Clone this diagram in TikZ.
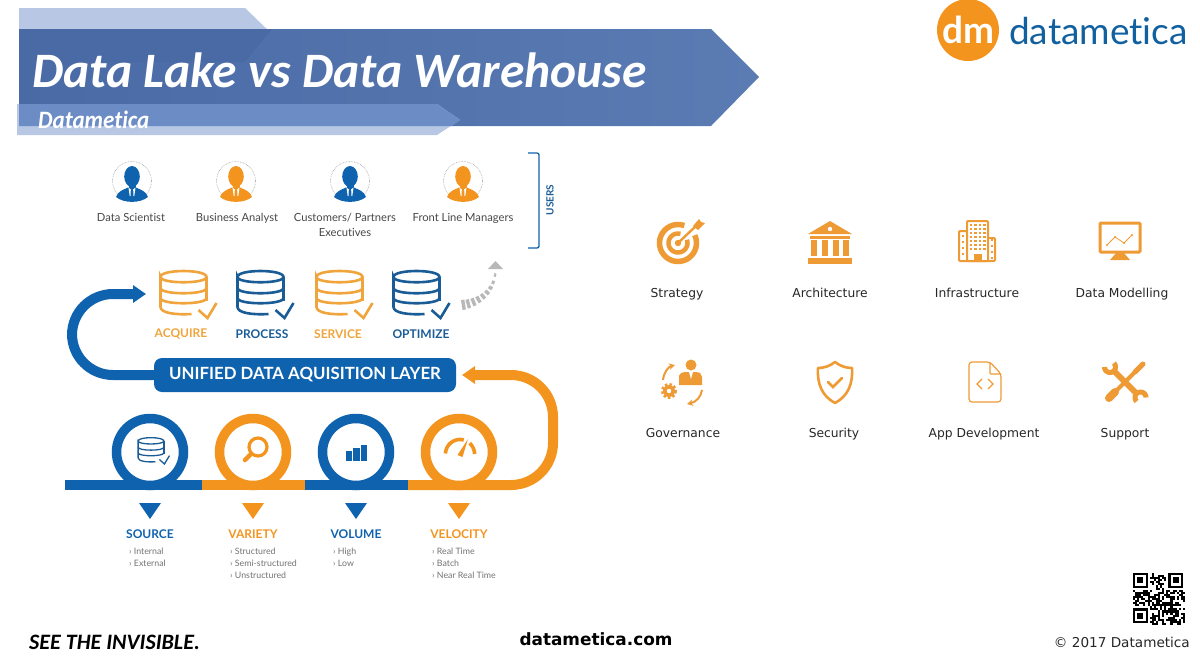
\documentclass[tikz,border=0pt]{standalone}
\usepackage{fontspec}
\usepackage{tikz}
\usetikzlibrary{arrows.meta,positioning,calc}
\setmainfont[Ligatures=NoCommon]{Lato}
\newfontfamily\titlefont[Ligatures=NoCommon]{Carlito}
\newfontfamily\webfont{DejaVu Sans}
\definecolor{dmblue}{HTML}{0F63AE}
\definecolor{dmnavy}{HTML}{1A5C96}
\definecolor{dmorange}{HTML}{F3941E}
\definecolor{dmpale}{HTML}{F0A43C}
\definecolor{iconorange}{HTML}{EE9A35}
\definecolor{bandmid}{HTML}{5B7BB3}
\definecolor{banddark}{HTML}{4A6AA6}
\definecolor{bandlight}{HTML}{B7C7E4}
\definecolor{bandstrip}{HTML}{6C8CC5}
\definecolor{logoblue}{HTML}{11609F}
\newcommand{\oparc}[6][]{\draw[#1, domain=#5:#6, samples=30, smooth, variable=\t] plot ({#2+#4*cos(\t)},{#3+#4*sin(\t)})}
\tikzset{
    usertxt/.style={font=\fontsize{11.2}{15}\selectfont, text=black!72, align=center},
    steptxt/.style={font=\fontsize{12}{14}\selectfont\bfseries},
    itemtxt/.style={font=\fontsize{8.8}{11.7}\selectfont, text=black!55, align=left, anchor=north west},
    icontxt/.style={font=\fontsize{12.3}{14}\selectfont\webfont, text=black!85, anchor=base},
    ringnode/.style={circle, draw=#1, line width=9.5, fill=white, minimum size=67, inner sep=0},
    pics/dbstack/.style={code={
        \draw (-23,-16) .. controls (-23,-24) and (23,-24) .. (23,-16) .. controls (23,-9) and (-23,-9) .. (-23,-16) -- (-23,14)
            .. controls (-23,20) and (-8,22) .. (8,21);
        \draw (23,-16) -- (23,8);
        \draw (-23,-5) .. controls (-23,2) and (23,2) .. (23,-5);
        \draw (-23,5) .. controls (-23,12) and (23,12) .. (23,5);
        \draw (15,17) -- (24,25) -- (33,10);
    }},
    pics/person/.style={code={
        \draw[black!40, densely dotted, line width=.6] (0,0) circle[radius=19.5];
        \fill (0,-4.5) ellipse[x radius=7.8,y radius=10.5];
        \fill (-3.5,3) rectangle (3.5,8);
        \fill (-16,16) .. controls (-14,10) and (-9,9) .. (-4,6.5) -- (4,6.5) .. controls (9,9) and (14,10) .. (16,16)
            .. controls (8,22.5) and (-8,22.5) .. (-16,16) -- cycle;
        \fill[white] (-3.5,6.5) -- (-1.2,8.5) -- (-1.5,15) -- (-2.3,15) -- cycle;
        \fill[white] (3.5,6.5) -- (1.2,8.5) -- (1.5,15) -- (2.3,15) -- cycle;
    }},
    pics/lens/.style={code={
        \draw[line width=3.2] (3,-3) circle[radius=9];
        \draw[line width=4.5, line cap=round] (-4,4) -- (-10,10);
    }},
    pics/bars/.style={code={
        \fill (-10.5,-1) rectangle (-4,9);
        \fill (-3,-4) rectangle (3.5,9);
        \fill (4.5,-7) rectangle (11,9);
    }},
    pics/gauge/.style={code={
        \oparc[line width=3.6]{0}{3}{14.5}{-178}{-75};
        \oparc[line width=3.6]{0}{3}{14.5}{-48}{0};
        \fill (8,-12) -- (2.5,6) -- (-2.5,4) -- cycle;
    }},
    pics/target/.style={code={
        \oparc[line width=5.5]{-2}{2}{18.5}{-25}{290};
        \oparc[line width=4.5]{-2}{2}{9.5}{-20}{285};
        \fill (-2,2) circle[radius=3.2];
        \draw[line width=2.4] (-2,2) -- (17,-16);
        \fill (13,-15) -- (19,-22) -- (21,-19) -- (25,-18) -- (18,-11) -- cycle;
    }},
    pics/temple/.style={code={
        \fill (-22,-8) -- (0,-21) -- (22,-8) -- cycle;
        \fill[white] (0,-13) circle[radius=2.2];
        \fill (-20,-6) rectangle (20,-3);
        \foreach \cx in {-16,-5.5,5.5,16}
            \fill (\cx-3,-2) rectangle (\cx+3,14);
        \fill (-22,16) rectangle (22,22);
    }},
    pics/towers/.style={code={
        \draw[line width=2, rounded corners=1] (-10,20) rectangle (11,-20);
        \draw[line width=2, rounded corners=1] (-10,-10) -- (-18,-10) -- (-18,20) -- (18,20) -- (18,-3) -- (11,-3);
        \foreach \cx in {-6,-1.5,3,7.5}
            \foreach \cy in {-16,-12,-8,-4,0,4,8}
                \fill (\cx-1.1,\cy-1.1) rectangle (\cx+1.1,\cy+1.1);
        \foreach \cy in {-5,1,7,13}
            {\fill (-15,\cy-1) rectangle (-13,\cy+1);
             \fill (13.5,\cy+3) rectangle (15.5,\cy+5);}
        \fill (-3,13) rectangle (5,20);
    }},
    pics/monitor/.style={code={
        \draw[line width=3, rounded corners=1] (-20,-18) rectangle (20,11);
        \fill (-4,12) -- (4,12) -- (10,19) -- (-10,19) -- cycle;
        \draw[line width=.8] (-13,4) -- (-5,-4) -- (4,2) -- (12,-6);
        \foreach \cx/\cy in {-13/4,-5/-4,4/2,12/-6}
            \fill (\cx,\cy) circle[radius=1.2];
    }},
    pics/govern/.style={code={
        \fill (9,-17) circle[radius=5.5];
        \fill (-3,3) -- (-3,-6) .. controls (-2,-10) and (3,-10) .. (5,-10) -- (13,-10) .. controls (18,-10) and (20,-8) .. (20,-5) -- (20,3) -- cycle;
        \fill[white] (7,-10) -- (9,-3) -- (11,-10) -- cycle;
        \draw[line width=3, dash pattern=on 2.4 off 2] (-13,9) circle[radius=6.5];
        \fill (-13,9) circle[radius=6];
        \fill[white] (-13,9) circle[radius=2.2];
        \draw[line width=2, -{Stealth[length=6,width=6.5]}] (-19,-2) .. controls (-18,-10) and (-14,-15) .. (-7,-17);
        \draw[line width=2, -{Stealth[length=6,width=6.5]}] (20,8) .. controls (19,15) and (14,20) .. (5,22);
    }},
    pics/shield/.style={code={
        \draw[line width=2.6, line join=round] (0,-20) .. controls (5,-16) and (11,-14) .. (17,-14) .. controls (18,2) and (13,14) .. (0,21)
            .. controls (-13,14) and (-18,2) .. (-17,-14) .. controls (-11,-14) and (-5,-16) .. (0,-20) -- cycle;
        \draw[line width=2.8, line cap=round] (-7,0) -- (-2,5) -- (7,-4);
    }},
    pics/codefile/.style={code={
        \draw[line width=1.2, rounded corners=3] (-16,-20) -- (5,-20) -- (16,-8) -- (16,20) -- (-16,20) -- cycle;
        \draw[line width=1.2, rounded corners=1] (5,-20) -- (5,-8) -- (16,-8);
        \draw[line width=1.2] (-3,-3) -- (-8,2) -- (-3,7);
        \draw[line width=1.2] (3,-3) -- (8,2) -- (3,7);
    }},
    pics/tools/.style={code={
        \draw[line width=6] (-12,-12) -- (13,13);
        \draw[line width=8, line cap=round] (-10,10) -- (-16,16);
        \draw[line width=4] (-10,10) -- (10,-10);
        \draw[line width=5, line cap=round] (10,-10) -- (18,-18);
        \oparc[line width=5]{-15}{-15}{5.5}{-45}{180};
        \oparc[line width=5]{15.5}{15.5}{5.5}{135}{360};
    }}
}
\begin{document}
\begin{tikzpicture}[x=1pt,y=-1pt]
    \useasboundingbox (0,0) rectangle (1200,670);
    \fill[bandlight] (19,8) -- (245,8) -- (272,34) -- (19,34) -- cycle;
    \shade[left color=banddark, right color=bandmid] (19,29) -- (711,29) -- (759,77) -- (711,126) -- (19,126) -- cycle;
    \fill[banddark] (19,29) -- (272,29) -- (245,62) -- (19,62) -- cycle;
    \fill[bandlight] (17,104) -- (437,104) -- (460,120) -- (437,135) -- (17,135) -- cycle;
    \fill[bandstrip] (19,104) -- (437,104) -- (460,120) -- (451,126) -- (19,126) -- cycle;
    \node[anchor=west, inner sep=0, text=white, font=\fontsize{49.5}{52}\selectfont\titlefont\bfseries\itshape] (title) at (32,70) {Data Lake vs Data Warehouse};
    \node[anchor=west, inner sep=0, xscale=.92, text=white, font=\fontsize{25}{28}\selectfont\titlefont\bfseries\itshape] (subtitle) at (38,120) {Datametica};

    \node[circle, fill=dmorange, minimum size=62, inner sep=0, text=white, font=\fontsize{37}{40}\selectfont\bfseries] (logo) at (968,30) {dm};
    \node[anchor=west, inner sep=0, text=logoblue, font=\fontsize{37}{39}\selectfont] (brand) at (1009,31) {datametica};

    \foreach \x/\col [count=\i] in {132/dmblue,236/dmorange,350/dmblue,463/dmorange}
        \pic[color=\col] (user\i) at (\x,181) {person};
    \node[usertxt, anchor=north] (who1) at (131,210) {Data Scientist};
    \node[usertxt, anchor=north] (who2) at (237,210) {Business Analyst};
    \node[usertxt, anchor=north] (who3) at (345,210) {Customers/ Partners\\Executives};
    \node[usertxt, anchor=north] (who4) at (463,210) {Front Line Managers};

    \coordinate (brtop) at (528,153);
    \coordinate (brbot) at (528,248);
    \draw[dmblue, line width=1.3, rounded corners=2] (brtop) -- (539,153) -- (539,248) -- (brbot);
    \node[rotate=90, text=dmnavy, font=\fontsize{10}{11}\selectfont\bfseries] (users) at (550,200) {USERS};

    \foreach \x/\col/\lab/\lx [count=\i] in {183.5/dmpale/ACQUIRE/181,260.5/dmnavy/PROCESS/262,339.5/dmpale/SERVICE/338,416.5/dmnavy/OPTIMIZE/421} {
        \pic[color=\col, line width=2.6] (db\i) at (\x,293) {dbstack};
        \node[steptxt, text=\col] (step\i) at (\lx,334) {\lab};
    }

    \coordinate (gs) at (462,305);
    \coordinate (gt) at (495.5,270);
    \foreach \p/\w [count=\i] in {.03/10,.13/9,.24/8,.35/7,.46/6,.57/5,.68/4,.79/3,.92/2.2}
        \path (gs) .. controls (478,303) and (495,292) .. (gt) node[pos=\p, sloped, fill=black!28, inner sep=0, minimum width=3.4, minimum height=\w] (gd\i) {};
    \fill[black!28] (488,269) -- (503,269) -- (495.5,261) -- cycle;

    \foreach \xa/\xb/\col in {65/202/dmblue,202/305/dmorange,305/408/dmblue}
        \fill[\col] (\xa,480) rectangle (\xb,490);

    \node[fill=dmblue, rounded corners=8, minimum width=302, minimum height=34, inner sep=0, text=white, font=\fontsize{16.8}{20}\selectfont\bfseries] (layer) at (305,375) {UNIFIED DATA AQUISITION LAYER};
    \coordinate (acqin) at (146,294);
    \coordinate (layin) at (462,375);
    \coordinate (basein) at (408,485);
    \draw[dmblue, line width=10, rounded corners=41, -{Triangle[length=13,width=17]}] (layer.west) -- (72,375) -- (72,294) -- (acqin);
    \draw[dmorange, line width=10, rounded corners=42, -{Triangle[length=13,width=17]}] (basein) -- (553,485) -- (553,375) -- (layin);

    \foreach \x/\col/\lab/\ix/\itms [count=\i] in {
        150/dmblue/SOURCE/129/{› Internal\\› External},
        253/dmorange/VARIETY/230/{› Structured\\› Semi-structured\\› Unstructured},
        356/dmblue/VOLUME/333/{› High\\› Low},
        459/dmorange/VELOCITY/432/{› Real Time\\› Batch\\› Near Real Time}} {
        \node[ringnode=\col] (ring\i) at (\x,452) {};
        \fill[\col] (\x-11,503) -- (\x+11,503) -- (\x,519) -- cycle;
        \node[steptxt, text=\col] (vee\i) at (\x,534) {\lab};
        \node[itemtxt, inner sep=0] (list\i) at (\ix,548) {\itms};
    }
    \pic[color=dmnavy, line width=1.3, scale=.56] (srcdb) at (151,450) {dbstack};
    \pic[color=dmorange] (srclens) at (255,450) {lens};
    \pic[color=dmblue] (srcbars) at (356,452) {bars};
    \pic[color=dmorange] (srcgauge) at (460,451) {gauge};

    \foreach \x/\y/\kind [count=\i] in {680/241/target,830/242/temple,977/241/towers,1120/241/monitor,682/382/govern,835/382/shield,985/382/codefile,1125/382/tools}
        \pic[color=iconorange] (icon\i) at (\x,\y) {\kind};
    \foreach \x/\y/\lab [count=\i] in {677/297/Strategy,830/297/Architecture,977/297/Infrastructure,1122/297/Data Modelling,683/437/Governance,834/437/Security,984/437/App Development,1125/437/Support}
        \node[icontxt] (area\i) at (\x,\y) {\lab};

    \node[anchor=west, inner sep=0, font=\fontsize{22}{25}\selectfont\titlefont\bfseries\itshape] (motto) at (29,642) {SEE THE INVISIBLE.};
    \node[inner sep=0, font=\fontsize{16.9}{19}\selectfont\webfont\bfseries] (site) at (596,639) {datametica.com};
    \node[anchor=east, inner sep=0, text=black!85, font=\fontsize{13.6}{16}\selectfont\webfont] (copy) at (1190,642) {© 2017 Datametica};

    \pgfmathsetseed{11}
    \foreach \i in {0,...,24}
        \foreach \j in {0,...,24} {
            \pgfmathparse{rnd<.52 ? 1 : 0}
            \ifnum\pgfmathresult=1
                \fill[black] (1133+\i*2.08,573+\j*2.08) rectangle ++(2.08,2.08);
            \fi
        }
    \foreach \x/\y in {1133/573,1168.4/573,1133/608.4} {
        \fill[white] (\x-2,\y-2) rectangle ++(18.6,18.6);
        \fill[black] (\x,\y) rectangle ++(14.6,14.6);
        \fill[white] (\x+2.1,\y+2.1) rectangle ++(10.4,10.4);
        \fill[black] (\x+4.2,\y+4.2) rectangle ++(6.2,6.2);
    }
\end{tikzpicture}
\end{document}
